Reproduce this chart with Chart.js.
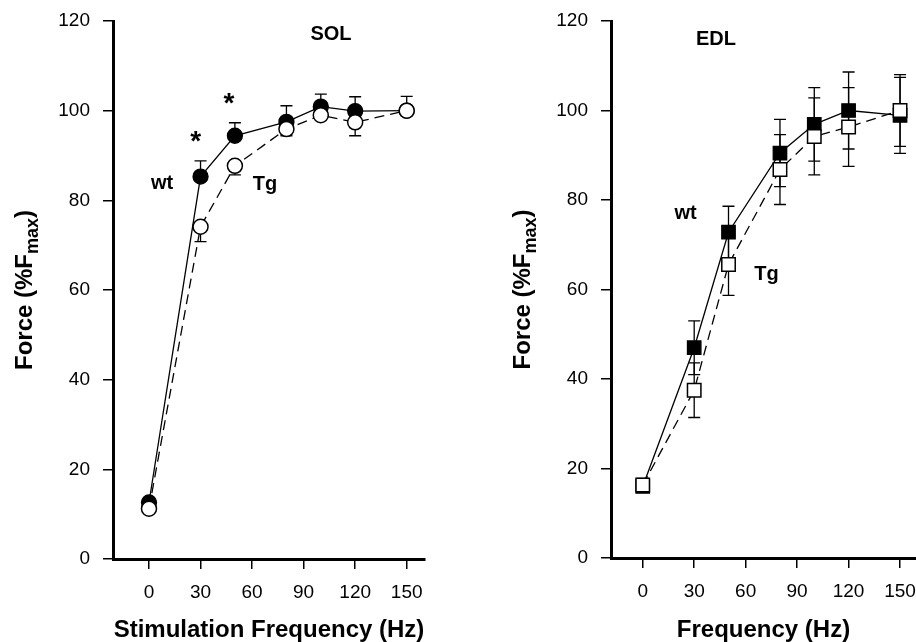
<!DOCTYPE html>
<html><head><meta charset="utf-8">
<script src="https://cdn.jsdelivr.net/npm/chart.js@4.4.1/dist/chart.umd.min.js"></script>
<style>
html,body{margin:0;padding:0;background:#fff;}
#wrap{position:relative;width:916px;height:642px;overflow:hidden;background:#fff;}
canvas{position:absolute;top:0;}
</style></head><body>
<div id="wrap">
<canvas id="sol" width="458" height="642" style="left:0px"></canvas>
<canvas id="edl" width="488" height="642" style="left:458px"></canvas>
</div>
<script>
const FONT = "'Liberation Sans', Arial, Helvetica, sans-serif";

// tick labels
const freqTicks = [0, 30, 60, 90, 120, 150];
const forceTicks = [0, 20, 40, 60, 80, 100, 120];

// SOL panel
const solFreq = [0, 30, 50, 80, 100, 120, 150];
const solWt = [12.6, 85.3, 94.4, 97.5, 100.9, 99.9, 100];
const solWtErr = [0, 3.5, 2.9, 3.6, 2.8, 3.2, 3.2];
const solTg = [11.2, 74.1, 87.7, 95.9, 99.0, 97.4, 100];
const solTgErr = [0, 3.3, 2.0, 1.5, 0.5, 3.0, 0];

// EDL panel
const edlFreq = [0, 30, 50, 80, 100, 120, 150];
const edlWt = [16.0, 47.0, 72.8, 90.5, 96.9, 100.0, 98.9];
const edlWtErr = [1.2, 6.0, 5.8, 7.5, 8.2, 8.6, 8.5];
const edlTg = [16.3, 37.5, 65.6, 86.8, 94.2, 96.3, 100.0];
const edlTgErr = [1.5, 6.1, 6.9, 7.8, 8.6, 8.8, 8.0];

// text labels placed in data units
const solLabels = [
  {text: 'SOL', x: 105.9, y: 117.4, size: 20},
  {text: 'wt', x: 7.6, y: 84.1, size: 20},
  {text: 'Tg', x: 67.5, y: 83.4, size: 20},
  {text: '*', x: 27.2, y: 94.2, size: 28},
  {text: '*', x: 46.6, y: 102.8, size: 28}
];
const edlLabels = [
  {text: 'EDL', x: 42.7, y: 116.3, size: 20},
  {text: 'wt', x: 25.0, y: 77.3, size: 20},
  {text: 'Tg', x: 72.2, y: 63.2, size: 20}
];

const pts = (xs, ys) => xs.map((v, i) => ({x: v, y: ys[i]}));

const errorBarPlugin = {
  id: 'errorBars',
  beforeDatasetsDraw(chart) {
    const {ctx, scales: {x, y}} = chart;
    ctx.save();
    ctx.strokeStyle = '#000';
    ctx.lineWidth = 1.3;
    chart.data.datasets.forEach(ds => {
      const up = ds.errUp || [], dn = ds.errDown || [];
      ds.data.forEach((p, i) => {
        const px = x.getPixelForValue(p.x);
        const cap = 6;
        [[up[i], 1], [dn[i], -1]].forEach(([e, s]) => {
          if (!e) return;
          const py0 = y.getPixelForValue(p.y), py1 = y.getPixelForValue(p.y + s * e);
          ctx.beginPath();
          ctx.moveTo(px, py0); ctx.lineTo(px, py1);
          ctx.moveTo(px - cap, py1); ctx.lineTo(px + cap, py1);
          ctx.stroke();
        });
      });
    });
    ctx.restore();
  }
};

const textPlugin = {
  id: 'textLabels',
  afterDraw(chart, args, opts) {
    const {ctx, scales: {x, y}} = chart;
    ctx.save();
    ctx.fillStyle = '#000';
    ctx.textAlign = 'center';
    ctx.textBaseline = 'alphabetic';
    (opts.items || []).forEach(it => {
      ctx.font = 'bold ' + it.size + 'px ' + FONT;
      const m = ctx.measureText(it.text);
      const px = x.getPixelForValue(it.x);
      const cy = y.getPixelForValue(it.y);
      const base = cy + (m.actualBoundingBoxAscent - m.actualBoundingBoxDescent) / 2;
      ctx.fillText(it.text, px, base);
    });
    // rotated y-axis title with subscript
    const t = opts.yTitle;
    if (t) {
      const ca = chart.chartArea;
      const bx = ca.left - 81, cy = (ca.top + ca.bottom) / 2;
      const fMain = 'bold 24px ' + FONT, fSub = 'bold 18px ' + FONT;
      ctx.font = fMain; const w1 = ctx.measureText(t.main).width; const w3 = ctx.measureText(t.end).width;
      ctx.font = fSub; const w2 = ctx.measureText(t.sub).width;
      const total = w1 + w2 + w3;
      ctx.translate(bx, cy);
      ctx.rotate(-Math.PI / 2);
      ctx.textAlign = 'left';
      let sx = -total / 2;
      ctx.font = fMain; ctx.fillText(t.main, sx, 0); sx += w1;
      ctx.font = fSub; ctx.fillText(t.sub, sx, 6); sx += w2;
      ctx.font = fMain; ctx.fillText(t.end, sx, 0);
    }
    ctx.restore();
  }
};

function makeScales(xmin, xmax, yW, xH, xTitle) {
  return {
    x: {
      type: 'linear', min: xmin, max: xmax,
      afterBuildTicks: s => { s.ticks = freqTicks.map(v => ({value: v})); },
      afterFit: s => { s.height = xH; s.paddingLeft = 0; s.paddingRight = 0; },
      grid: {drawOnChartArea: false, drawTicks: true, tickLength: 10, color: '#000', lineWidth: 1.5},
      border: {display: true, color: '#000', width: 3},
      ticks: {color: '#000', font: {family: FONT, size: 19}, padding: 12, maxRotation: 0, autoSkip: false},
      title: {display: true, text: xTitle, color: '#000', font: {family: FONT, size: 24, weight: 'bold', lineHeight: 1}, padding: 0}
    },
    y: {
      type: 'linear', min: 0, max: 120,
      afterBuildTicks: s => { s.ticks = forceTicks.map(v => ({value: v})); },
      afterFit: s => { s.width = yW; s.paddingTop = 0; s.paddingBottom = 0; },
      grid: {drawOnChartArea: false, drawTicks: true, tickLength: 10, color: '#000', lineWidth: 1.5},
      border: {display: true, color: '#000', width: 3},
      ticks: {color: '#000', font: {family: FONT, size: 19}, padding: 13, autoSkip: false}
    }
  };
}

function makeChart(id, style, radius, freq, wt, wtUp, wtDn, tg, tgUp, tgDn, xmin, xmax, yW, xH, padRight, xTitle, labels) {
  return new Chart(document.getElementById(id), {
    type: 'scatter',
    data: {
      datasets: [
        {label: 'wt', data: pts(freq, wt), showLine: true, order: 1,
         borderColor: '#000', borderWidth: 1.3, pointStyle: style, pointRadius: radius,
         pointBackgroundColor: '#000', pointBorderColor: '#000', pointBorderWidth: 1.3,
         errUp: wtUp, errDown: wtDn},
        {label: 'Tg', data: pts(freq, tg), showLine: true, order: 0,
         borderColor: '#000', borderWidth: 1.3, borderDash: [10, 6], pointStyle: style, pointRadius: radius,
         pointBackgroundColor: '#fff', pointBorderColor: '#000', pointBorderWidth: 1.5,
         errUp: tgUp, errDown: tgDn}
      ]
    },
    options: {
      responsive: false, animation: false, devicePixelRatio: 1,
      layout: {padding: {top: 21, right: padRight, bottom: 0, left: 0}},
      scales: makeScales(xmin, xmax, yW, xH, xTitle),
      plugins: {
        legend: {display: false}, tooltip: {enabled: false},
        textLabels: {items: labels, yTitle: {main: 'Force (%F', sub: 'max', end: ')'}}
      }
    },
    plugins: [errorBarPlugin, textPlugin]
  });
}

makeChart('sol', 'circle', 7.5, solFreq, solWt, solWtErr, null, solTg, null, solTgErr,
  -20.95, 160.65, 113, 83, 33, 'Stimulation Frequency (Hz)', solLabels);
makeChart('edl', 'rect', 9.5, edlFreq, edlWt, edlWtErr, edlWtErr, edlTg, edlTgErr, edlTgErr,
  -18.5, 159.3, 153, 84, 30, 'Frequency (Hz)', edlLabels);
</script>
</body></html>
